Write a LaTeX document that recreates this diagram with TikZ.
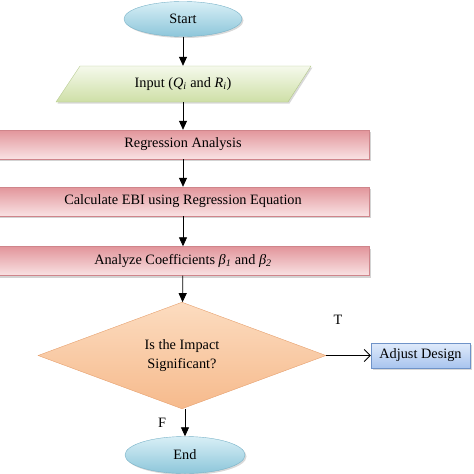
\documentclass[tikz,border=0pt]{standalone}
\usepackage{fontspec}
\setmainfont{Liberation Serif}
\usepackage{tikz}
\usetikzlibrary{shapes.geometric, shadows, arrows.meta}
\usetikzlibrary{positioning}
\definecolor{termtop}{HTML}{D8EFF6}
\definecolor{termbot}{HTML}{8DC6DA}
\definecolor{termln}{HTML}{7AB3C8}
\definecolor{intop}{HTML}{F5F9EC}
\definecolor{inbot}{HTML}{CEDFA6}
\definecolor{inln}{HTML}{B3C88A}
\definecolor{proctop}{HTML}{E2959B}
\definecolor{procbot}{HTML}{F9E2E3}
\definecolor{procln}{HTML}{CF858B}
\definecolor{dectop}{HTML}{FCDCC0}
\definecolor{decbot}{HTML}{F6BA8C}
\definecolor{decln}{HTML}{E6A06E}
\definecolor{sidetop}{HTML}{E0EBFB}
\definecolor{sidebot}{HTML}{A8C4EE}
\definecolor{sideln}{HTML}{6F93C8}

\begin{document}
\begin{tikzpicture}[x=1pt, y=-1pt, font=\fontsize{14.3}{19}\selectfont,
	term/.style={shape=ellipse, draw=termln, top color=termtop, bottom color=termbot,
		minimum width=118pt, minimum height=35pt, inner sep=0pt,
		drop shadow={shadow xshift=1.5pt, shadow yshift=-1.5pt, opacity=0.3}},
	proc/.style={draw=procln, top color=proctop, bottom color=procbot,
		minimum width=372pt, minimum height=29pt, inner sep=0pt,
		drop shadow={shadow xshift=2pt, shadow yshift=-2pt, opacity=0.35}},
	dec/.style={shape=diamond, draw=decln, top color=dectop, bottom color=decbot,
		minimum width=288pt, minimum height=101pt, inner sep=0pt, align=center},
	side/.style={draw=sideln, top color=sidetop, bottom color=sidebot,
		minimum width=99pt, minimum height=25pt, inner sep=0pt,
		drop shadow={shadow xshift=1.5pt, shadow yshift=-1.5pt, opacity=0.3}},
	flow/.style={thick, -{Triangle[length=9pt, width=8pt]}}]
	\useasboundingbox (0, 0) rectangle (474, 474);
	\node[term] (0) at (183, 19) {Start};
	% input parallelogram
	\draw[draw=inln, top color=intop, bottom color=inbot,
		drop shadow={shadow xshift=1.5pt, shadow yshift=-1.5pt, opacity=0.3}]
		(56, 102) -- (80, 66) -- (311, 66) -- (288, 102) -- cycle;
	\node[minimum width=200pt, minimum height=36pt] (1) at (183, 84)
		{Input (\textit{Q}\textsubscript{\textit{i}} and \textit{R}\textsubscript{\textit{i}})};
	\node[proc] (2) at (183, 144.5) {Regression Analysis};
	\node[proc] (3) at (183, 201.5) {Calculate EBI using Regression Equation};
	\node[proc] (4) at (183, 261) {Analyze Coefficients \textit{β}\textsubscript{\textit{1}} and \textit{β}\textsubscript{\textit{2}}};
	\node[dec] (5) at (182, 355.5) {Is the Impact\\Significant?};
	\node[side] (6) at (420.5, 355.5) {Adjust Design};
	\node[term, minimum width=120pt, minimum height=37pt] (7) at (185, 455) {End};
	\node (8) at (338, 320) {T};
	\node (9) at (162, 423) {F};
	\draw[flow] (0) to (1);
	\draw[flow] (1) to (2);
	\draw[flow] (2) to (3);
	\draw[flow] (3) to (4);
	\draw[flow] (4) to (5);
	\draw[thick, -{Straight Barb[length=6pt, width=12pt]}] (5.east) to (6.west);
	\draw[flow] (5.south -| 7.north) to (7.north);
\end{tikzpicture}
\end{document}
